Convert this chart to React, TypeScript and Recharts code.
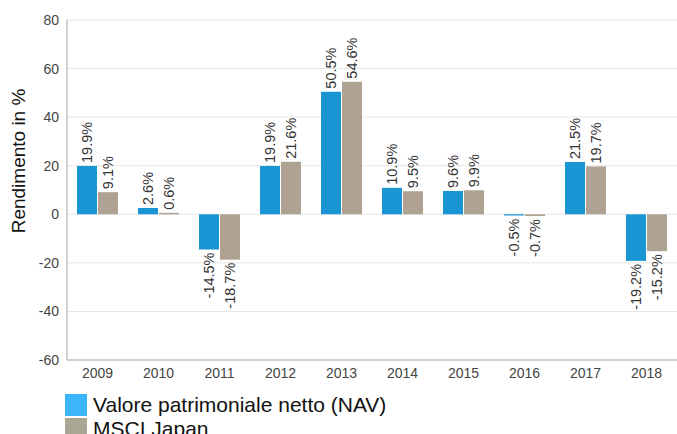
import React from "react";
import {
	BarChart,
	Bar,
	XAxis,
	YAxis,
	CartesianGrid,
	Legend,
	LabelList,
} from "recharts";

const years = ["2009", "2010", "2011", "2012", "2013", "2014", "2015", "2016", "2017", "2018"];
const navValues = [19.9, 2.6, -14.5, 19.9, 50.5, 10.9, 9.6, -0.5, 21.5, -19.2];
const msciValues = [9.1, 0.6, -18.7, 21.6, 54.6, 9.5, 9.9, -0.7, 19.7, -15.2];
const yTicks = [-60, -40, -20, 0, 20, 40, 60, 80];

const seriesNames = ["Valore patrimoniale netto (NAV)", "MSCI Japan"];
const barColors = ["#1a95d3", "#b0a293"];
const legendColors = ["#3db5fb", "#a9a693"];

const data = years.map((year, i) => ({
	year,
	nav: navValues[i],
	msci: msciValues[i],
}));

const FONT = "'Liberation Sans', Arial, sans-serif";

const RotatedLabel = (props: any) => {
	const { x, y, width, height, value } = props;
	const v = Number(value);
	const cx = x + width / 2 + 5;
	// bar top for positive, bar bottom for negative
	const edge = v >= 0 ? Math.min(y, y + height) : Math.max(y, y + height);
	const ty = v >= 0 ? edge - 3 : edge + 3;
	return (
		<text
			x={cx}
			y={ty}
			transform={`rotate(-90 ${cx} ${ty})`}
			textAnchor={v >= 0 ? "start" : "end"}
			fontSize={14.5}
			fontFamily={FONT}
			fill="#333"
		>
			{v.toFixed(1) + "%"}
		</text>
	);
};

const AxisTitle = () => (
	<text
		x={25}
		y={161}
		transform="rotate(-90 25 161)"
		textAnchor="middle"
		fontSize={19}
		fontFamily={FONT}
		fill="#111"
	>
		Rendimento in %
	</text>
);

const LegendBox = () => (
	<div style={{ fontFamily: FONT }}>
		{seriesNames.map((name, i) => (
			<div
				key={name}
				style={{ display: "flex", alignItems: "center", height: 24, lineHeight: "24px" }}
			>
				<span
					style={{
						display: "inline-block",
						width: 22,
						height: 22,
						background: legendColors[i],
						marginRight: 6,
					}}
				/>
				<span style={{ fontSize: 21, color: "#111" }}>{name}</span>
			</div>
		))}
	</div>
);

export default function App() {
	return (
		<div style={{ position: "absolute", left: 0, top: 0, width: 677, height: 434, overflow: "hidden", background: "#fff" }}>
			<BarChart
				width={677}
				height={434}
				data={data}
				margin={{ top: 20, right: 0, left: 0, bottom: 0 }}
				barCategoryGap={10}
				barGap={1}
			>
				<CartesianGrid vertical={false} stroke="#e6e6e6" />
				<XAxis
					dataKey="year"
					tickLine={false}
					axisLine={{ stroke: "#d0d0d0", strokeWidth: 2 }}
					tick={{ fontSize: 14, fill: "#444", fontFamily: FONT }}
					height={26}
					interval={0}
				/>
				<YAxis
					domain={[-60, 80]}
					ticks={yTicks}
					width={67}
					tickLine={false}
					axisLine={{ stroke: "#d0d0d0", strokeWidth: 2 }}
					tick={{ fontSize: 14, fill: "#444", fontFamily: FONT }}
					label={<AxisTitle />}
				/>
				<Legend
					content={<LegendBox />}
					wrapperStyle={{ position: "absolute", left: 65, top: 393, width: "auto", height: 48 }}
				/>
				<Bar dataKey="nav" name={seriesNames[0]} fill={barColors[0]} isAnimationActive={false}>
					<LabelList dataKey="nav" content={RotatedLabel} />
				</Bar>
				<Bar dataKey="msci" name={seriesNames[1]} fill={barColors[1]} isAnimationActive={false}>
					<LabelList dataKey="msci" content={RotatedLabel} />
				</Bar>
			</BarChart>
		</div>
	);
}
